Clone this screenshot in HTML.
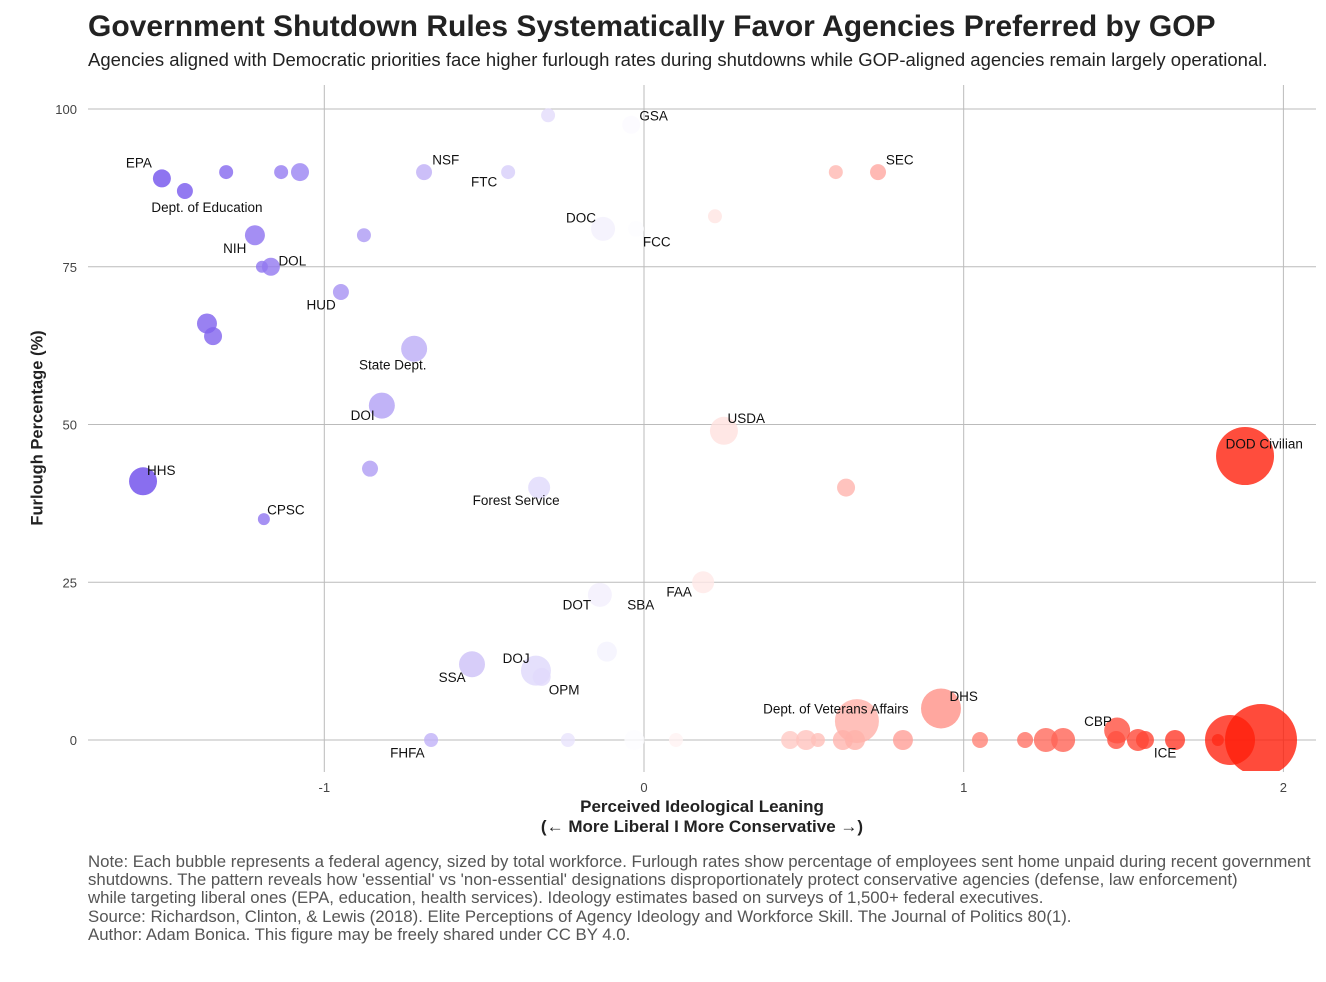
<!DOCTYPE html>
<html><head><meta charset="utf-8"><style>
body{margin:0;background:#fff;font-family:"Liberation Sans",sans-serif;}
#wrap{position:relative;width:1326px;height:982px;overflow:hidden;}
.t{position:absolute;white-space:nowrap;}
</style></head><body><div id="wrap">
<div class="t" style="left:88px;top:10px;font-size:30px;font-weight:bold;color:#222;">Government Shutdown Rules Systematically Favor Agencies Preferred by GOP</div>
<div class="t" style="left:88px;top:49px;font-size:18.5px;color:#222;">Agencies aligned with Democratic priorities face higher furlough rates during shutdowns while GOP-aligned agencies remain largely operational.</div>
<svg id="plot" width="1326" height="982" style="position:absolute;left:0;top:0"></svg>
<div class="t" style="left:38px;top:428px;font-size:16.5px;font-weight:bold;color:#222;transform:translate(-50%,-50%) rotate(-90deg);">Furlough Percentage (%)</div>
<div class="t" style="left:702px;top:797px;transform:translateX(-50%);font-size:17px;font-weight:bold;color:#222;text-align:center;line-height:20px;">Perceived Ideological Leaning<br>(← More Liberal I More Conservative →)</div>
<div class="t" style="left:88px;top:853px;font-size:16.8px;color:#555;line-height:18.2px;">Note: Each bubble represents a federal agency, sized by total workforce. Furlough rates show percentage of employees sent home unpaid during recent government<br>shutdowns. The pattern reveals how 'essential' vs 'non-essential' designations disproportionately protect conservative agencies (defense, law enforcement)<br>while targeting liberal ones (EPA, education, health services). Ideology estimates based on surveys of 1,500+ federal executives.<br>Source: Richardson, Clinton, &amp; Lewis (2018). Elite Perceptions of Agency Ideology and Workforce Skill. The Journal of Politics 80(1).<br>Author: Adam Bonica. This figure may be freely shared under CC BY 4.0.</div>
</div>
<script>
const xTicks=[-1,0,1,2];
const yTicks=[0,25,50,75,100];
const ideology=[-1.508,-1.436,-1.307,-1.135,-1.076,-1.217,-1.195,-1.167,-0.876,-0.948,-1.367,-1.348,-0.719,-0.82,-0.857,-1.567,-1.189,-0.688,-0.425,-0.30,-0.04,-0.128,-0.025,0.222,0.6,0.732,0.25,0.632,-0.328,0.185,-0.138,-0.116,-0.538,-0.338,-0.32,-0.666,-0.238,-0.03,0.1,0.457,0.507,0.544,0.622,0.666,0.66,0.81,0.929,1.051,1.192,1.257,1.311,1.48,1.477,1.545,1.567,1.661,1.88,1.833,1.93,1.795];
const furlough=[89,87,90,90,90,80,75,75,80,71,66,64,62,53,43,41,35,90,90,99,97.5,81,81,83,90,90,49,40,40,25,23,14,12,11,10,0,0,0,0,0,0,0,0,3,0,0,5,0,0,0,0,1.5,0,0,0,0,45,0,0,0];
const workforce=[9,8,7,7,9,10,6,9,7,8,10,9,13,13,8,14,6,8,7,7,9,12,8,7,7,8,14,9,11,11,12,10,13,15,9,7,7,10,7,9,10,7,10,22,10,10,20,8,8,12,12,13,9,11,9,10,29,25,36,6];
const labels=["EPA","Dept. of Education","NIH","DOL","HUD","State Dept.","DOI","HHS","CPSC","NSF","FTC","GSA","DOC","FCC","SEC","USDA","DOD Civilian","Forest Service","FAA","DOT","SBA","DOJ","SSA","OPM","FHFA","Dept. of Veterans Affairs","DHS","CBP","ICE"];
const labelX=[-1.58,-1.367,-1.28,-1.10,-1.01,-0.786,-0.88,-1.51,-1.12,-0.62,-0.50,0.03,-0.197,0.04,0.80,0.32,1.94,-0.40,0.11,-0.21,-0.01,-0.40,-0.60,-0.25,-0.74,0.60,1.00,1.42,1.63];
const labelY=[91.5,84.5,78,76,69,59.5,51.5,42.8,36.5,92,88.5,99,82.8,79,92,51,47,38,23.5,21.5,21.5,13,10,8,-2,5,7,3,-2];
const svg=document.getElementById('plot');
const NS='http://www.w3.org/2000/svg';
const sx=v=>644+v*319.7, sy=v=>740-v*6.31;
function mk(t,a){const e=document.createElementNS(NS,t);for(const k in a)e.setAttribute(k,a[k]);svg.appendChild(e);return e;}
yTicks.forEach(v=>{const l=mk('line',{x1:88,x2:1316,y1:sy(v),y2:sy(v),stroke:'#bbb','stroke-width':1});


const t=mk('text',{x:77,y:sy(v)+5,'text-anchor':'end','font-size':13,fill:'#444','font-family':'Liberation Sans'});t.textContent=v;

});
xTicks.forEach(v=>{const l=mk('line',{x1:sx(v),x2:sx(v),y1:85,y2:772,stroke:'#bbb','stroke-width':1});


const t=mk('text',{x:sx(v),y:792,'text-anchor':'middle','font-size':13,fill:'#444','font-family':'Liberation Sans'});t.textContent=v;

});
const defs=mk('defs',{});const cp=document.createElementNS(NS,'clipPath');cp.setAttribute('id','cp');const r=document.createElementNS(NS,'rect');
r.setAttribute('x',88);r.setAttribute('y',85);r.setAttribute('width',1228);r.setAttribute('height',686);cp.appendChild(r);defs.appendChild(cp);
const g=mk('g',{'clip-path':'url(#cp)'});
function col(v){let c,t;if(v<0){c=[105,70,235];t=Math.min(1,-v/1.6);}else{c=[255,30,10];t=Math.min(1,v/1.9);}
return 'rgb('+c.map(k=>Math.round(255+(k-255)*t)).join(',')+')';}
ideology.forEach((v,i)=>{const c=document.createElementNS(NS,'circle');
c.setAttribute('cx',sx(v));c.setAttribute('cy',sy(furlough[i]));c.setAttribute('r',workforce[i]);c.setAttribute('fill',col(v));c.setAttribute('fill-opacity',0.8);


g.appendChild(c);});
labels.forEach((s,i)=>{const t=mk('text',{x:sx(labelX[i]),y:sy(labelY[i])+5,'text-anchor':'middle','font-size':13.5,fill:'#111','font-family':'Liberation Sans'});t.textContent=s;

});
</script></body></html>
